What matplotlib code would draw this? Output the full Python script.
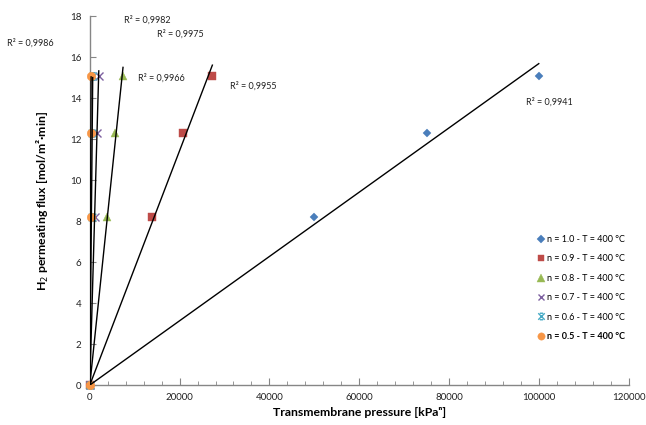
import numpy as np
import matplotlib
matplotlib.use("Agg")
import matplotlib.pyplot as plt
from matplotlib.path import Path
from matplotlib.ticker import MultipleLocator

plt.rcParams["font.family"] = ["Lato", "DejaVu Sans"]

# flux values (same for every series)
flux = [0, 8.2, 12.3, 15.1]

# transmembrane pressure [kPa^n] per series
p_n10 = [0, 50000, 75000, 100000]
p_n09 = [0, 13800, 20700, 27300]
p_n08 = [0, 3800, 5700, 7400]
p_n07 = [0, 1050, 1580, 2000]
p_n06 = [0, 380, 520, 650]
p_n05 = [0, 170, 230, 290]

labels = [
    "n = 1.0 - T = 400 °C",
    "n = 0.9 - T = 400 °C",
    "n = 0.8 - T = 400 °C",
    "n = 0.7 - T = 400 °C",
    "n = 0.6 - T = 400 °C",
    "n = 0.5 - T = 400 °C",
]

r2_texts = ["R² = 0,9986", "R² = 0,9982", "R² = 0,9975",
            "R² = 0,9966", "R² = 0,9955", "R² = 0,9941"]
r2_pos = [(-18500, 16.55), (7700, 17.7), (15000, 17.0),
          (10800, 14.85), (31300, 14.45), (97200, 13.7)]

# Excel-like "x with bars" marker
star_path = Path(
    [(-1, -1), (1, 1), (-1, 1), (1, -1), (-0.5, 1), (0.5, 1), (-0.5, -1), (0.5, -1)],
    [Path.MOVETO, Path.LINETO, Path.MOVETO, Path.LINETO,
     Path.MOVETO, Path.LINETO, Path.MOVETO, Path.LINETO],
)

styles = [
    dict(marker="D", color="#4A7EBB", ms=4.5),
    dict(marker="s", color="#BE4B48", ms=5.8),
    dict(marker="^", color="#98B954", ms=6.2),
    dict(marker="x", color="#7D60A0", ms=5.5, mew=1),
    dict(marker=star_path, color="#46AAC5", ms=5.5, mew=1),
    dict(marker="o", color="#F79646", ms=6.2),
]

series = [p_n10, p_n09, p_n08, p_n07, p_n06, p_n05]

fig = plt.figure(figsize=(6.46, 4.25), dpi=100)
ax = fig.add_axes([0.139, 0.094, 0.834, 0.868])

for x, lab, st in zip(series, labels, styles):
    ax.plot(x, flux, linestyle="none", marker=st["marker"], color=st["color"],
            markersize=st["ms"], markeredgewidth=st.get("mew", 0.3),
            label=lab, zorder=3, clip_on=False)

# linear trendlines through origin
for x in series:
    xa = np.array(x, dtype=float)
    ya = np.array(flux, dtype=float)
    slope = (xa * ya).sum() / (xa * xa).sum()
    ax.plot([0, xa.max()], [0, slope * xa.max()], color="black", lw=1, zorder=4)

for t, (tx, ty) in zip(r2_texts, r2_pos):
    ax.text(tx, ty, t, fontsize=6.5, color="#222222", clip_on=False)

ax.set_xlim(0, 120000)
ax.set_ylim(0, 18)
ax.xaxis.set_major_locator(MultipleLocator(20000))
ax.xaxis.set_minor_locator(MultipleLocator(4000))
ax.yaxis.set_major_locator(MultipleLocator(2))

for side in ["top", "right"]:
    ax.spines[side].set_visible(False)
for side in ["left", "bottom"]:
    ax.spines[side].set_color("#868686")
    ax.spines[side].set_linewidth(1)

ax.tick_params(axis="both", which="both", direction="in", colors="#868686",
               labelcolor="#222222", labelsize=7)
ax.tick_params(axis="x", which="major", length=5, pad=6)
ax.tick_params(axis="x", which="minor", length=3)
ax.tick_params(axis="y", which="major", length=4, pad=6)

ax.set_xlabel("Transmembrane pressure [kPaⁿ]", fontsize=8.8, fontweight="bold",
              labelpad=3)
ax.set_ylabel("H$_{2}$ permeating flux [mol/m²·min]", fontsize=8.8,
              fontweight="bold", labelpad=14)

leg = ax.legend(loc="center right", bbox_to_anchor=(1.0, 0.263), frameon=False,
                fontsize=6.5, handlelength=0.8, handletextpad=0.3,
                labelspacing=1.15, borderaxespad=0, markerscale=0.85)
leg.get_texts()[-1].set_fontweight("bold")

fig.savefig("out.png", dpi=100)
